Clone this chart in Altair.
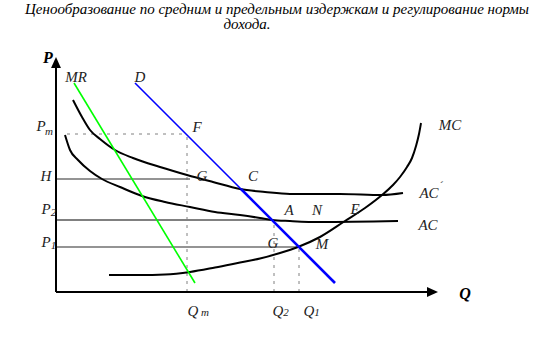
import altair as alt
import pandas as pd

# ---- chart units: Q (horizontal) and P (vertical) ----
# Average cost with regulation (AC')
ac2_q = [17, 26, 34, 44, 59, 77, 104, 131, 157, 184, 209, 234, 284, 326, 347]
ac2_p = [192, 175, 162, 153, 142, 134, 125, 117, 110, 103, 100, 98, 98, 97, 99]
# Average cost (AC)
ac_q = [9, 14, 22, 34, 46, 64, 86, 109, 134, 159, 184, 204, 216, 234, 264, 342]
ac_p = [157, 142, 132, 121, 113, 105, 96, 90, 85, 80, 77, 74, 72, 71, 70, 71]
# Marginal cost (MC)
mc_q = [53, 84, 109, 134, 159, 184, 204, 224, 242, 264, 289, 309, 326, 337, 344, 351, 356, 360, 363, 365]
mc_p = [17, 17, 17.5, 20, 24.5, 29.5, 33.5, 39, 45, 55, 71, 84, 97, 107, 115, 125, 134, 146, 158, 169]
# Marginal revenue (MR) and demand (D)
mr_q = [18, 139]
mr_p = [209, 9]
d_top_q = [79, 185]
d_top_p = [209, 103]
d_bot_q = [185, 279]
d_bot_p = [103, 9]

# Price levels and quantities
Pm, H, P2, P1 = 158, 113, 72, 45
Qm, Q2, Q1 = 131, 218, 243

# Labels: text, Q, P
lab_text = ["MR", "D", "P", "H", "P", "P", "F", "G", "C", "A", "N", "E", "G", "M", "MC", "AC", "AC",
            "Q", "Q", "Q"]
lab_q = [20, 84, -15, -10, -10, -10, 141, 146, 197, 233, 261, 299, 217, 266, 394, 373, 372, 137, 222, 253]
lab_p = [215, 215, 166, 116, 83, 50, 165, 116, 116, 82, 82, 83, 49, 48, 167, 99, 67, -19, -19, -19]
sub_text = ["m", "2", "1", "m", "2", "1", "\u00b4"]
sub_q = [-7, -2.5, -2.5, 149, 230, 261, 385]
sub_p = [160, 79, 46, -21, -21, -21, 106]
title_text = ["Ценообразование по средним и предельным издержкам и регулирование нормы", "дохода."]
title_q = [221, 191]
title_p = [283, 268]

SERIF = "Liberation Serif"

X = alt.X("Q:Q", scale=alt.Scale(domain=[0, 400], nice=False, zero=False), axis=None)
Y = alt.Y("P:Q", scale=alt.Scale(domain=[0, 240], nice=False, zero=False), axis=None)


def seg(q, p, name):
    return pd.DataFrame({"Q": q, "P": p, "s": name, "i": list(range(len(q)))})


def line(df, **kw):
    return alt.Chart(df).mark_line(**kw).encode(
        x=X, y=Y, detail="s:N", order="i:Q")


curves = pd.concat([seg(ac2_q, ac2_p, "AC2"), seg(ac_q, ac_p, "AC"), seg(mc_q, mc_p, "MC")])
dotted = pd.concat([
    seg([11, Qm], [Pm, Pm], "pm"),
    seg([Qm, Qm], [0, Pm], "qm"),
    seg([Q2, Q2], [0, P2], "q2"),
    seg([Q1, Q1], [0, P1], "q1"),
])
hlines_thin = pd.concat([seg([0, 134], [H, H], "h"), seg([0, 242], [P1, P1], "p1")])
hline_p2 = seg([0, 216], [P2, P2], "p2")
axes = pd.concat([seg([0, 0], [0, 226], "ya"), seg([0, 372], [0, 0], "xa")])

layers = [
    line(dotted, color="#808080", strokeWidth=1, strokeDash=[3, 5]),
    line(hlines_thin, color="#707070", strokeWidth=1.3),
    line(hline_p2, color="#808080", strokeWidth=2.2),
    line(curves, color="black", strokeWidth=2, interpolate="monotone"),
    line(seg(mr_q, mr_p, "MR"), color="#00ff00", strokeWidth=1.6),
    line(seg(d_top_q, d_top_p, "D1"), color="#0000ff", strokeWidth=1.6),
    line(seg(d_bot_q, d_bot_p, "D2"), color="#0000ff", strokeWidth=2.6),
    line(axes, color="black", strokeWidth=2),
    alt.Chart(pd.DataFrame({"Q": [0], "P": [229.5]})).mark_point(
        shape="M0,-1L0.9,1L-0.9,1Z", filled=True, color="black", opacity=1, size=121
    ).encode(x=X, y=Y),
    alt.Chart(pd.DataFrame({"Q": [376.5], "P": [0]})).mark_point(
        shape="M1,0L-1,-0.9L-1,0.9Z", filled=True, color="black", opacity=1, size=121
    ).encode(x=X, y=Y),
    alt.Chart(pd.DataFrame({"t": lab_text, "Q": lab_q, "P": lab_p})).mark_text(
        font=SERIF, fontStyle="italic", fontSize=15, color="#222222",
        align="center", baseline="middle"
    ).encode(x=X, y=Y, text="t:N"),
    alt.Chart(pd.DataFrame({"t": sub_text, "Q": sub_q, "P": sub_p})).mark_text(
        font=SERIF, fontStyle="italic", fontSize=11, color="#222222",
        align="center", baseline="middle"
    ).encode(x=X, y=Y, text="t:N"),
    alt.Chart(pd.DataFrame({"t": ["P", "Q"], "Q": [-8, 409], "P": [234, -2]})).mark_text(
        font=SERIF, fontStyle="italic", fontWeight="bold", fontSize=16,
        color="black", align="center", baseline="middle"
    ).encode(x=X, y=Y, text="t:N"),
    alt.Chart(pd.DataFrame({"t": title_text, "Q": title_q, "P": title_p})).mark_text(
        font=SERIF, fontStyle="italic", fontSize=15, color="black",
        align="center", baseline="middle"
    ).encode(x=X, y=Y, text="t:N"),
]

chart = alt.layer(*layers).properties(
    width=400, height=240,
    padding={"left": 56, "top": 52, "right": 77, "bottom": 70},
    autosize=alt.AutoSizeParams(type="none"),
    background="white",
).configure_view(stroke=None)

chart.save("out.html", embed_options={"renderer": "svg", "actions": False})
